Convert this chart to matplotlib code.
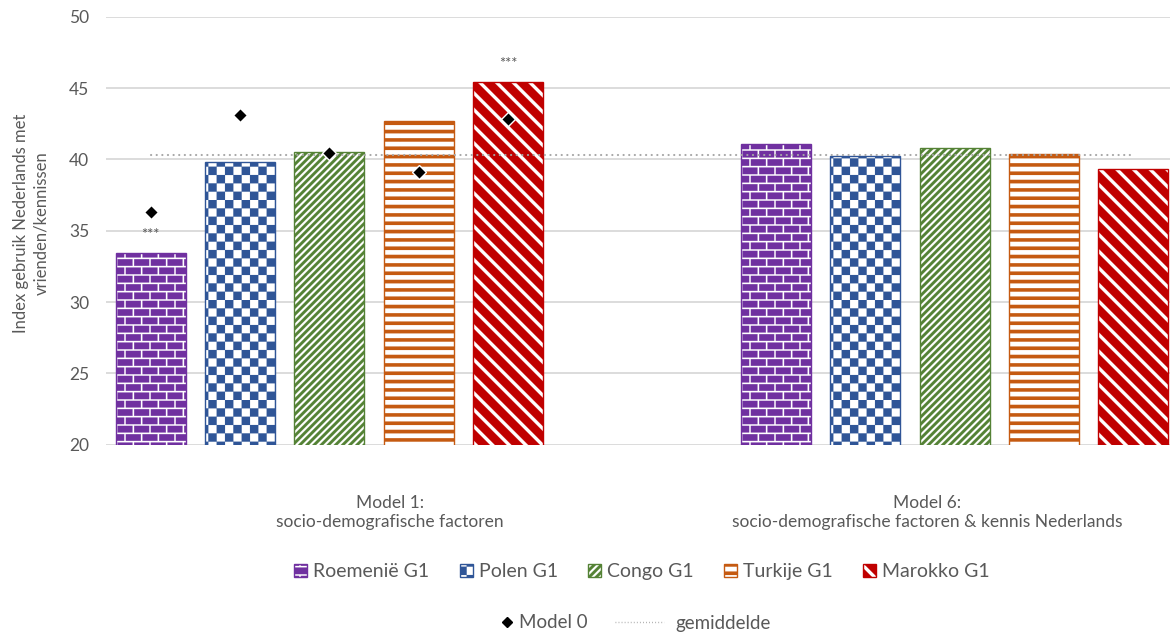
import numpy as np
import matplotlib
matplotlib.use('Agg')
import matplotlib.pyplot as plt
import matplotlib.hatch as mhatch
from matplotlib.path import Path
from matplotlib.lines import Line2D

# ---------------- data ----------------
countries = ['Roemenië G1', 'Polen G1', 'Congo G1', 'Turkije G1', 'Marokko G1']
models = ['Model 1:\nsocio-demografische factoren',
          'Model 6:\nsocio-demografische factoren & kennis Nederlands']
model1 = [33.45, 39.8, 40.5, 42.7, 45.45]
model6 = [41.1, 40.25, 40.8, 40.35, 39.35]
model0 = [36.3, 43.1, 40.45, 39.1, 42.8]
signif_model1 = ['***', '', '', '', '***']
gemiddelde = 40.3
yticks = [20, 25, 30, 35, 40, 45, 50]
ylabel = 'Index gebruik Nederlands met\nvrienden/kennissen'

# ---------------- style ----------------
colors = ['#7030A0', '#2F5597', '#548235', '#C55A11', '#C00000']
hatches = ['o', 'x', '/', '-', '\\']
txt = '#595959'
grid_c = '#D9D9D9'
FONT = 'Lato'
plt.rcParams['font.family'] = [FONT, 'DejaVu Sans']
plt.rcParams['hatch.linewidth'] = 0.1


# ---------------- custom fill patterns (bricks, checker, stripes) ----------------
def _rect(x0, y0, x1, y1):
    return [(x0, y0), (x1, y0), (x1, y1), (x0, y1), (x0, y0)]


class _PolyHatch(mhatch.HatchPatternBase):
    char = None

    def __init__(self, hatch, density):
        self.polys = self.make_polys() if (hatch and self.char in hatch) else []
        self.num_vertices = sum(len(p) for p in self.polys)

    def set_vertices_and_codes(self, vertices, codes):
        i = 0
        for p in self.polys:
            n = len(p)
            vertices[i:i + n] = p
            codes[i] = Path.MOVETO
            codes[i + 1:i + n - 1] = Path.LINETO
            codes[i + n - 1] = Path.CLOSEPOLY
            i += n


class Bricks(_PolyHatch):
    char = 'o'

    def make_polys(self):
        rows, cols, g = 12, 6, 0.017
        h, w = 1 / rows, 1 / cols
        polys = []
        for r in range(rows):
            off = w / 2 if r % 2 else 0
            for c in range(-1, cols + 1):
                x0 = c * w + off + g / 2
                polys.append(_rect(x0, r * h + g / 2, x0 + w - g, (r + 1) * h - g / 2))
        return polys


class Checker(_PolyHatch):
    char = 'x'

    def make_polys(self):
        n = 12
        s = 1 / n
        return [_rect(i * s, j * s, (i + 1) * s, (j + 1) * s)
                for i in range(n) for j in range(n) if (i + j) % 2 == 0]


class NEStripes(_PolyHatch):
    char = '/'

    def make_polys(self):
        n, frac = 14, 0.55
        p = 1 / n
        wb = frac * p
        return [[(k * p, 0), (k * p + wb, 0), (k * p + wb + 1, 1), (k * p + 1, 1), (k * p, 0)]
                for k in range(-n - 1, n + 2)]


class SEStripes(_PolyHatch):
    char = '\\'

    def make_polys(self):
        n, frac = 6, 0.7
        p = 1 / n
        wb = frac * p
        return [[(k * p, 1), (k * p + wb, 1), (k * p + wb + 1, 0), (k * p + 1, 0), (k * p, 1)]
                for k in range(-n - 1, n + 2)]


class HStripes(_PolyHatch):
    char = '-'

    def make_polys(self):
        n, frac = 12, 0.42
        p = 1 / n
        return [_rect(0, k * p, 1, k * p + frac * p) for k in range(n)]


mhatch._hatch_types = [Bricks, Checker, NEStripes, HStripes, SEStripes]

# ---------------- figure ----------------
W, H = 1170, 635
fig = plt.figure(figsize=(W / 100, H / 100), dpi=100)
ax_left, ax_right, ax_top, ax_bot = 106, 1170, 16.7, 444.7
ax = fig.add_axes([ax_left / W, 1 - ax_bot / H, (ax_right - ax_left) / W, (ax_bot - ax_top) / H])

n = len(countries)
group_start = np.array([0.0, 7.0])
bar_w = 0.785
series = np.array([model1, model6])

bar_handles = []
for i in range(n):
    xs = group_start + i
    b = ax.bar(xs, series[:, i], width=bar_w, color='white', edgecolor=colors[i],
               hatch=hatches[i], linewidth=1.0, zorder=2, label=countries[i])
    bar_handles.append(b)

# Model 0 diamonds
x1 = group_start[0] + np.arange(n)
ax.plot(x1, model0, linestyle='none', marker='D', markersize=7.2, color='black',
        markeredgecolor='white', markeredgewidth=1.0, zorder=4)

# significance stars
for i in range(n):
    if signif_model1[i]:
        ax.text(x1[i], model1[i] + 1.25, signif_model1[i], ha='center', va='center',
                fontsize=10.5, color=txt, zorder=5)

# gemiddelde line across bar centres
all_x = np.concatenate([group_start[0] + np.arange(n), group_start[1] + np.arange(n)])
ax.plot([all_x.min(), all_x.max()], [gemiddelde, gemiddelde], color='#A6A6A6',
        linewidth=1.5, linestyle=(0, (0.1, 2.6)), dash_capstyle='round', zorder=3)

# axes formatting
ax.set_ylim(20, 50)
ax.set_xlim(-0.5, 11.41)
ax.set_yticks(yticks)
ax.yaxis.grid(True, color=grid_c, linewidth=1.3, zorder=0)
ax.set_axisbelow(True)
for s in ax.spines.values():
    s.set_visible(False)
ax.tick_params(axis='y', length=0, pad=12, labelsize=12.5, labelcolor=txt)
cat_centers = np.array([2.68, 8.69])
ax.set_xticks(cat_centers)
ax.set_xticklabels(models, fontsize=12.5, color=txt, linespacing=1.28)
ax.tick_params(axis='x', length=0, pad=36)

fig.text(31 / W, 1 - 223 / H, ylabel, rotation=90, ha='center', va='center',
         fontsize=12, color=txt, multialignment='center', linespacing=1.35)

# legends
LFS = 14
fig.legend(handles=bar_handles, labels=countries, loc='center left',
           bbox_to_anchor=(294 / W, 1 - 571.7 / H), ncol=5, frameon=False,
           fontsize=LFS, handlelength=0.67, handleheight=0.6, handletextpad=0.32,
           columnspacing=1.55, borderpad=0, borderaxespad=0, labelcolor=txt)
m0 = Line2D([], [], linestyle='none', marker='D', markersize=5, color='black')
fig.legend(handles=[m0], labels=['Model 0'], loc='center left',
           bbox_to_anchor=(502 / W, 1 - 623 / H), frameon=False, fontsize=13.5,
           handlelength=0.5, handletextpad=0.4, borderpad=0, borderaxespad=0, labelcolor=txt)
gm = Line2D([], [], color='#A6A6A6', linewidth=1.0, linestyle=(0, (0.6, 1.6)))
fig.legend(handles=[gm], labels=['gemiddelde'], loc='center left',
           bbox_to_anchor=(615 / W, 1 - 623 / H), frameon=False, fontsize=13.5,
           handlelength=2.6, handletextpad=0.6, borderpad=0, borderaxespad=0, labelcolor=txt)

fig.savefig('out.png', dpi=100)
